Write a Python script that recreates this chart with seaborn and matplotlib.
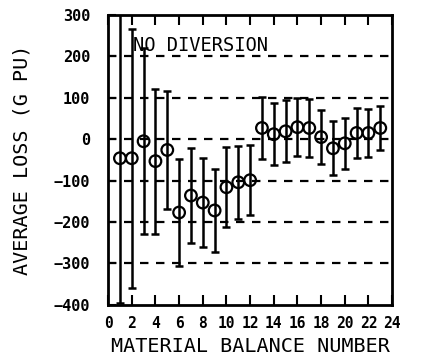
import numpy as np
import pandas as pd
import matplotlib
matplotlib.use("Agg")
import matplotlib.pyplot as plt
import seaborn as sns

# material balance numbers and the average loss (g Pu) with its error bar half-width
balance_number = list(range(1, 24))
avg_loss = [-46, -46, -5, -53, -26, -177, -136, -153, -172, -116, -104, -99,
            27, 12, 19, 29, 27, 5, -22, -10, 15, 15, 27]
loss_err = [350, 312, 225, 175, 143, 128, 115, 108, 101, 96, 88, 85,
            75, 75, 75, 70, 70, 65, 65, 62, 60, 58, 53]

x_ticks = list(range(0, 25, 2))
y_ticks = [-400, -300, -200, -100, 0, 100, 200, 300]
grid_levels = [-300, -200, -100, 0, 100, 200]

df = pd.DataFrame({"MBA": balance_number, "LOSS": avg_loss, "ERR": loss_err})

sns.set_style("ticks", {"axes.edgecolor": "black", "xtick.color": "black",
                        "ytick.color": "black", "text.color": "black",
                        "axes.labelcolor": "black"})
plt.rcParams['font.family'] = ['DejaVu Sans Mono', 'DejaVu Sans']

fig = plt.figure(figsize=(4.29, 3.63), dpi=100)
ax = fig.add_axes([0.252, 0.160, 0.662, 0.799])

# dashed horizontal guide lines
for lev in grid_levels:
    ax.axhline(lev, color='black', lw=1.6, dashes=(3.8, 3.4), zorder=1)

ax.errorbar(df['MBA'], df['LOSS'], yerr=df['ERR'], fmt='none', ecolor='black',
            elinewidth=1.8, capsize=3, capthick=1.8, zorder=2)
sns.scatterplot(data=df, x='MBA', y='LOSS', ax=ax, marker='o', s=70,
                facecolor='none', edgecolor='black', linewidth=1.6, zorder=3)

ax.text(2.1, 225, "NO DIVERSION", fontsize=13.5, va='center', ha='left')

ax.set_xlim(0, 24)
ax.set_ylim(-400, 300)
ax.set_xticks(x_ticks)
ax.set_yticks(y_ticks)
ax.tick_params(axis='x', direction='in', length=7, width=1.5, top=True,
               labelsize=10.5, pad=8)
ax.tick_params(axis='y', direction='in', length=6, width=1.5, labelsize=11, pad=13)
for lab in ax.get_xticklabels() + ax.get_yticklabels():
    lab.set_fontweight('bold')
for sp in ax.spines.values():
    sp.set_linewidth(2)
    sp.set_color('black')

ax.set_xlabel('MATERIAL BALANCE NUMBER', fontsize=14.5, labelpad=4)
ax.set_ylabel('AVERAGE LOSS (G PU)', fontsize=14.5, labelpad=16)

fig.savefig('out.png', dpi=100)
